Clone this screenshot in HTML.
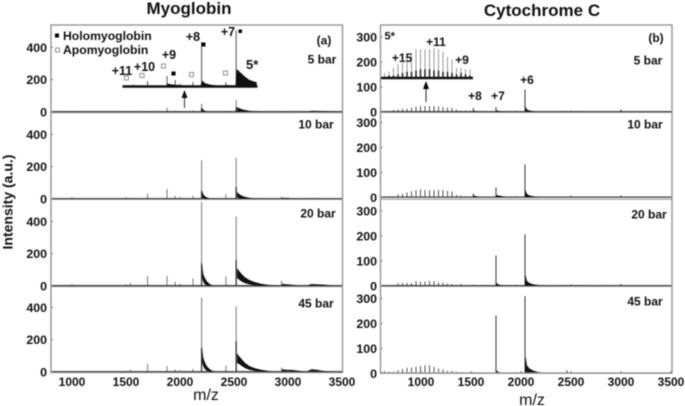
<!DOCTYPE html>
<html lang="en">
<head>
<meta charset="utf-8">
<title>Myoglobin and Cytochrome C spectra</title>
<style>
html,body{margin:0;padding:0;background:#fff;width:685px;height:406px;overflow:hidden}
svg{display:block;filter:blur(.5px)}
text{font-family:"Liberation Sans",sans-serif;fill:#111;font-weight:700}
</style>
</head>
<body>
<svg id="chart" xmlns="http://www.w3.org/2000/svg" width="685" height="406" viewBox="0 0 685 406">
<g id="marks"></g>
<g id="frames"></g>
<g>
<text x="189" y="14" text-anchor="middle" font-size="17">Myoglobin</text>
<text x="542" y="16" text-anchor="middle" font-size="17">Cytochrome C</text>
<text transform="translate(12.5,202) rotate(-90)" text-anchor="middle" font-size="14">Intensity (a.u.)</text>
<text x="206" y="400" text-anchor="middle" font-size="16" style="font-weight:400">m/z</text>
<text x="532" y="405" text-anchor="middle" font-size="16" style="font-weight:400">m/z</text>

<rect x="55" y="33.500" width="4" height="4" fill="#000"/>
<rect x="55.500" y="48" width="4" height="4" fill="#fff" stroke="#777" stroke-width=".8"/>
<text x="63" y="40" font-size="12.200">Holomyoglobin</text>
<text x="63" y="54" font-size="12.200">Apomyoglobin</text>

<rect x="238.500" y="29.500" width="3.500" height="3.500" fill="#000"/>
<rect x="201.500" y="42.500" width="4" height="4" fill="#000"/>
<rect x="171.500" y="71.500" width="4" height="4" fill="#000"/>
<rect x="124.500" y="76" width="4" height="4" fill="#fff" stroke="#777" stroke-width=".8"/>
<rect x="140" y="73.500" width="4" height="4" fill="#fff" stroke="#777" stroke-width=".8"/>
<rect x="161.500" y="64" width="4" height="4" fill="#fff" stroke="#777" stroke-width=".8"/>
<rect x="189.500" y="72.500" width="4" height="4" fill="#fff" stroke="#777" stroke-width=".8"/>
<rect x="223.500" y="71" width="4" height="4" fill="#fff" stroke="#777" stroke-width=".8"/>

<text x="228" y="36" text-anchor="middle" font-size="12.500">+7</text>
<text x="193" y="41" text-anchor="middle" font-size="12.500">+8</text>
<text x="169" y="59" text-anchor="middle" font-size="12.500">+9</text>
<text x="144.500" y="71" text-anchor="middle" font-size="12.500">+10</text>
<text x="122" y="75" text-anchor="middle" font-size="12.500">+11</text>
<text x="246" y="69" font-size="13">5*</text>
<text x="324" y="44.500" text-anchor="middle" font-size="12">(a)</text>
<text x="322" y="63.500" text-anchor="middle" font-size="12">5 bar</text>
<text x="316" y="128.500" text-anchor="middle" font-size="12">10 bar</text>
<text x="318" y="217.500" text-anchor="middle" font-size="12">20 bar</text>
<text x="316" y="307.500" text-anchor="middle" font-size="12">45 bar</text>

<text x="384.500" y="39.500" font-size="11">5*</text>
<text x="436" y="46" text-anchor="middle" font-size="12">+11</text>
<text x="402" y="62" text-anchor="middle" font-size="12">+15</text>
<text x="462" y="64" text-anchor="middle" font-size="12">+9</text>
<text x="527" y="84" text-anchor="middle" font-size="12">+6</text>
<text x="475" y="100" text-anchor="middle" font-size="12">+8</text>
<text x="498" y="100" text-anchor="middle" font-size="12">+7</text>
<text x="656" y="42" text-anchor="middle" font-size="12">(b)</text>
<text x="648" y="64.500" text-anchor="middle" font-size="12">5 bar</text>
<text x="645" y="128.500" text-anchor="middle" font-size="12">10 bar</text>
<text x="649" y="218.500" text-anchor="middle" font-size="12">20 bar</text>
<text x="645" y="305.500" text-anchor="middle" font-size="12">45 bar</text>

<g>
<line x1="184.500" y1="108" x2="184.500" y2="94" stroke="#333" stroke-width="1"/>
<path d="M184.500 90L181.500 98H187.500Z" fill="#111"/>
</g>
<g>
<line x1="426" y1="102" x2="426" y2="86" stroke="#222" stroke-width="1"/>
<path d="M426 81L423 89H429Z" fill="#000"/>
</g>
</g>
</svg>
<script>
// Shared tick labels
const myoXTicks = [1000, 1500, 2000, 2500, 3000, 3500];
const myoYTicks = [0, 200, 400];
const cytoXTicks = [1000, 1500, 2000, 2500, 3000, 3500];
const cytoYTicks = [0, 100, 200, 300];

// Myoglobin stick peaks
const myoPeakMz = [1000, 1500, 1540, 1700, 1880, 1955, 2000, 2120, 2200, 2425, 2520, 2940, 3000];
const myo5Peaks = [5, 4, 4, 6, 25, 8, 6, 8, 50, 8, 75, 6, 4];
const myo10Peaks = [10, 10, 6, 33, 62, 20, 12, 20, 240, 30, 255, 15, 10];
const myo20Peaks = [10, 10, 20, 62, 62, 27, 15, 47, 520, 58, 430, 33, 12];
const myo45Peaks = [8, 10, 15, 50, 37, 15, 12, 20, 460, 40, 405, 27, 10];

// Dark cores of the two main peaks (m/z 2200, 2520)
const myoCoreMz = [2200, 2520];
const myo5Core = [25, 30];
const myo10Core = [50, 75];
const myo20Core = [140, 160];
const myo45Core = [150, 190];

// Tail envelopes after m/z 2200
const myoTailAMz = [2205, 2215, 2230, 2250, 2275, 2300, 2340];
const myo5TailATop = [25, 15, 8, 4, 2, 1, 0];
const myo5TailABottom = [0, 0, 0, 0, 0, 0, 0];
const myo10TailATop = [50, 30, 18, 10, 4, 2, 0];
const myo10TailABottom = [10, 5, 2, 0, 0, 0, 0];
const myo20TailATop = [140, 75, 50, 28, 12, 5, 1];
const myo20TailABottom = [50, 25, 10, 4, 0, 0, 0];
const myo45TailATop = [150, 90, 60, 35, 18, 8, 2];
const myo45TailABottom = [60, 35, 18, 7, 2, 0, 0];

// Tail envelopes after m/z 2520
const myoTailBMz = [2528, 2545, 2570, 2600, 2640, 2690, 2750, 2820, 2900];
const myo5TailBTop = [30, 25, 18, 12, 8, 5, 3, 1, 0];
const myo5TailBBottom = [0, 0, 0, 0, 0, 0, 0, 0, 0];
const myo10TailBTop = [45, 32, 22, 14, 8, 4, 2, 0, 0];
const myo10TailBBottom = [10, 6, 3, 1, 0, 0, 0, 0, 0];
const myo20TailBTop = [110, 95, 75, 55, 38, 25, 14, 7, 3];
const myo20TailBBottom = [50, 40, 28, 18, 10, 5, 2, 0, 0];
const myo45TailBTop = [115, 100, 80, 58, 38, 24, 14, 7, 3];
const myo45TailBBottom = [55, 50, 38, 25, 14, 7, 3, 1, 0];

// High-mass humps
const myoHumpMz = [2945, 2990, 3040, 3100, 3170, 3220, 3260, 3320, 3400, 3480];
const myo5Hump = [3, 3, 2, 1, 1, 8, 7, 6, 4, 1];
const myo10Hump = [8, 6, 3, 1, 0, 4, 4, 2, 1, 0];
const myo20Hump = [15, 10, 8, 4, 2, 12, 11, 9, 5, 1];
const myo45Hump = [18, 14, 13, 8, 3, 18, 15, 8, 3, 1];

// Myoglobin 5x inset (5 bar)
const myoInsetMz = [1570, 1700, 1880, 1955, 2000, 2120, 2200, 2425, 2520];
const myoInsetPeaks = [15, 37, 68, 43, 20, 31, 278, 31, 350];
const myoInsetFuzzMz = [1880, 1920, 1955, 2000, 2050, 2120, 2190, 2205, 2230, 2260, 2300, 2350, 2400, 2430, 2470, 2515, 2525, 2560, 2600, 2640, 2680, 2710];
const myoInsetFuzz = [22, 16, 14, 12, 9, 10, 8, 40, 25, 18, 12, 9, 6, 12, 10, 10, 111, 90, 65, 45, 35, 30];

// Cytochrome C envelope spikes
const cytoSpikeMz = [635, 680, 725, 770, 815, 860, 905, 950, 995, 1040, 1085, 1130, 1175, 1220, 1265, 1310, 1355, 1400, 1445, 1490];
const cyto5Spikes = [4, 4, 8, 10, 13, 13, 17, 22, 24, 24, 24, 24, 22, 20, 18, 16, 10, 6, 6, 5];
const cyto10Spikes = [5, 5, 5, 13, 15, 20, 25, 30, 33, 30, 30, 30, 30, 30, 27, 24, 10, 8, 5, 4];
const cyto20Spikes = [3, 3, 4, 12, 12, 12, 12, 20, 17, 18, 20, 20, 14, 13, 10, 8, 3, 8, 3, 2];
const cyto45Spikes = [10, 7, 7, 13, 18, 23, 24, 27, 30, 33, 33, 27, 20, 16, 11, 11, 7, 5, 4, 3];

// Cytochrome C main peaks
const cytoPeakMz = [1523, 1750, 2040, 2460, 2500, 3000];
const cyto5Peaks = [16, 19, 90, 4, 5, 10];
const cyto10Peaks = [16, 40, 132, 3, 7, 8];
const cyto20Peaks = [5, 122, 207, 4, 6, 8];
const cyto45Peaks = [5, 232, 310, 12, 6, 8];

// Cytochrome C small background peaks
const cytoNoiseMz = [1570, 1620, 1660, 1700, 1900, 1950, 1990, 2350, 2550, 2600, 2700, 2800, 2900];
const cytoNoise = [3, 3, 4, 3, 4, 5, 4, 3, 4, 3, 3, 3, 3];

// Cytochrome C tails
const cytoTailAMz = [1755, 1775, 1800, 1850, 1900];
const cyto5TailA = [6, 5, 3, 2, 1];
const cyto10TailA = [10, 8, 6, 3, 1];
const cyto20TailA = [12, 6, 4, 3, 1];
const cyto45TailA = [12, 6, 4, 2, 1];
const cytoTailBMz = [2045, 2060, 2085, 2120, 2170, 2230, 2300];
const cyto5TailB = [22, 10, 6, 4, 2, 1, 0];
const cyto10TailB = [30, 14, 8, 5, 3, 1, 0];
const cyto20TailB = [45, 20, 12, 7, 4, 2, 1];
const cyto45TailB = [70, 32, 20, 12, 6, 3, 1];
const cytoTailCMz = [1525, 1545, 1580, 1620];
const cyto5TailC = [6, 4, 2, 1];
const cyto10TailC = [8, 6, 3, 1];
const cyto20TailC = [3, 2, 1, 0];
const cyto45TailC = [3, 2, 1, 0];

// Cytochrome C 5x inset
const cytoInsetSpikes = [4, 5, 8, 11, 12, 13, 20, 23, 23, 23, 23, 24, 23, 21, 17, 15, 8, 8, 7, 7];
const cytoInsetCores = [1, 2, 2, 3, 4, 5, 5, 6, 7, 7, 7, 6, 6, 5, 5, 4, 3, 4, 3, 2];

const NS = 'http://www.w3.org/2000/svg';
const marks = document.getElementById('marks');
const frames = document.getElementById('frames');

function make(parent, tag, name, attrs, text) {
  const el = document.createElementNS(NS, tag);
  
  
  for (const k in attrs) el.setAttribute(k, attrs[k]);
  if (text !== undefined) el.textContent = text;
  parent.appendChild(el);
  return el;
}

const xMyo = v => 50.4 + (v - 800) * 0.108;
const xCyto = v => 381 + (v - 600) * 0.1;

function sticks(group, name, xs, vals, xf, yf, base, color, width) {
  xs.forEach((m, i) => {
    const px = xf(m);
    make(group, 'line', name, { x1: px, x2: px, y1: base, y2: yf(vals[i]), stroke: color, 'stroke-width': width });
  });
}

function band(group, name, xs, top, bottom, xf, yf, color) {
  const up = xs.map((m, i) => xf(m).toFixed(2) + ',' + yf(top[i]).toFixed(2));
  const down = xs.map((m, i) => xf(m).toFixed(2) + ',' + yf(bottom ? bottom[i] : 0).toFixed(2)).reverse();
  make(group, 'polygon', name, { points: up.concat(down).join(' '), fill: color });
}

function baseline(group, name, x1, x2, y, w) {
  make(group, 'line', name, { x1: x1, x2: x2, y1: y, y2: y, stroke: '#111', 'stroke-width': w });
}

const myoPanels = [
  { id: '5-bar', zero: 112, peaks: myo5Peaks, core: myo5Core, aT: myo5TailATop, aB: myo5TailABottom, bT: myo5TailBTop, bB: myo5TailBBottom, hump: myo5Hump },
  { id: '10-bar', zero: 199, peaks: myo10Peaks, core: myo10Core, aT: myo10TailATop, aB: myo10TailABottom, bT: myo10TailBTop, bB: myo10TailBBottom, hump: myo10Hump },
  { id: '20-bar', zero: 286, peaks: myo20Peaks, core: myo20Core, aT: myo20TailATop, aB: myo20TailABottom, bT: myo20TailBTop, bB: myo20TailBBottom, hump: myo20Hump },
  { id: '45-bar', zero: 372, peaks: myo45Peaks, core: myo45Core, aT: myo45TailATop, aB: myo45TailABottom, bT: myo45TailBTop, bB: myo45TailBBottom, hump: myo45Hump }
];
const myoScale = 0.1617;

myoPanels.forEach(p => {
  const yf = v => p.zero - v * myoScale;
  const g = make(marks, 'g', 'myoglobin-spectrum-' + p.id, {});
  sticks(g, 'myoglobin-peak', myoPeakMz, p.peaks, xMyo, yf, p.zero, '#777', 1);
  sticks(g, 'myoglobin-peak-core', myoCoreMz, p.core, xMyo, yf, p.zero, '#111', 1);
  band(g, 'myoglobin-tail-a', myoTailAMz, p.aT, p.aB, xMyo, yf, '#111');
  band(g, 'myoglobin-tail-b', myoTailBMz, p.bT, p.bB, xMyo, yf, '#111');
  band(g, 'myoglobin-hump', myoHumpMz, p.hump, null, xMyo, yf, '#222');
  baseline(g, 'myoglobin-baseline', 51, 342, p.zero - 0.4, 1);
  myoYTicks.forEach(t => {
    make(frames, 'line', 'myoglobin-y-tick', { x1: 50.5, x2: 53, y1: yf(t), y2: yf(t), stroke: '#777', 'stroke-width': 1 });
    make(frames, 'text', 'myoglobin-y-tick-label', { x: 47, y: yf(t) + 4.5, 'text-anchor': 'end', 'font-size': 12.4 }, t);
  });
});

const myoInsetY = v => 87 - v * myoScale;
const myoInset = make(marks, 'g', 'myoglobin-inset', {});
sticks(myoInset, 'myoglobin-inset-peak', myoInsetMz, myoInsetPeaks, xMyo, myoInsetY, 87, '#555', 1);
band(myoInset, 'myoglobin-inset-fuzz', myoInsetFuzzMz, myoInsetFuzz, null, xMyo, myoInsetY, '#111');
baseline(myoInset, 'myoglobin-inset-baseline', 122.5, 257.5, 86.5, 2.5);

const cytoPanels = [
  { id: '5-bar', zero: 112, spikes: cyto5Spikes, peaks: cyto5Peaks, a: cyto5TailA, b: cyto5TailB, c: cyto5TailC },
  { id: '10-bar', zero: 197.5, spikes: cyto10Spikes, peaks: cyto10Peaks, a: cyto10TailA, b: cyto10TailB, c: cyto10TailC },
  { id: '20-bar', zero: 286, spikes: cyto20Spikes, peaks: cyto20Peaks, a: cyto20TailA, b: cyto20TailB, c: cyto20TailC },
  { id: '45-bar', zero: 373.5, spikes: cyto45Spikes, peaks: cyto45Peaks, a: cyto45TailA, b: cyto45TailB, c: cyto45TailC }
];
const cytoScale = 0.25;

cytoPanels.forEach(p => {
  const yf = v => p.zero - v * cytoScale;
  const g = make(marks, 'g', 'cytochrome-spectrum-' + p.id, {});
  sticks(g, 'cytochrome-spike', cytoSpikeMz, p.spikes, xCyto, yf, p.zero, '#555', 1);
  sticks(g, 'cytochrome-peak', cytoPeakMz, p.peaks, xCyto, yf, p.zero, '#333', 1);
  sticks(g, 'cytochrome-noise-peak', cytoNoiseMz, cytoNoise, xCyto, yf, p.zero, '#333', 1);
  band(g, 'cytochrome-tail-a', cytoTailAMz, p.a, null, xCyto, yf, '#111');
  band(g, 'cytochrome-tail-b', cytoTailBMz, p.b, null, xCyto, yf, '#111');
  band(g, 'cytochrome-tail-c', cytoTailCMz, p.c, null, xCyto, yf, '#111');
  baseline(g, 'cytochrome-baseline', 381, 672, p.zero - 0.4, 1);
  cytoYTicks.forEach(t => {
    make(frames, 'line', 'cytochrome-y-tick', { x1: 380, x2: 382.5, y1: yf(t), y2: yf(t), stroke: '#777', 'stroke-width': 1 });
    make(frames, 'text', 'cytochrome-y-tick-label', { x: 377, y: yf(t) + 4.5, 'text-anchor': 'end', 'font-size': 12.4 }, t);
  });
});

const cytoInsetY = v => 78 - v * 1.25;
const cytoInset = make(marks, 'g', 'cytochrome-inset', {});
sticks(cytoInset, 'cytochrome-inset-spike', cytoSpikeMz, cytoInsetSpikes, xCyto, cytoInsetY, 78, '#999', 1);
sticks(cytoInset, 'cytochrome-inset-core', cytoSpikeMz, cytoInsetCores, xCyto, cytoInsetY, 78, '#111', 1.4);
baseline(cytoInset, 'cytochrome-inset-baseline', 380, 473, 78, 2.4);

[[51, 25, 291.5, 347.5], [380.5, 25, 291.5, 348]].forEach((r, i) => {
  make(frames, 'rect', i ? 'cytochrome-frame' : 'myoglobin-frame', { x: r[0], y: r[1], width: r[2], height: r[3], fill: 'none', stroke: '#8c8c8c', 'stroke-width': 1.3 });
});
[112.6, 199.4, 286.6].forEach(y => {
  make(frames, 'line', 'myoglobin-panel-divider', { x1: 51, x2: 342.5, y1: y, y2: y, stroke: '#8c8c8c', 'stroke-width': 1 });
  make(frames, 'line', 'cytochrome-panel-divider', { x1: 380.5, x2: 672, y1: y - 0.2, y2: y - 0.2, stroke: '#8c8c8c', 'stroke-width': 1 });
});
myoXTicks.forEach(t => {
  make(frames, 'text', 'myoglobin-x-tick-label', { x: xMyo(t), y: 386, 'text-anchor': 'middle', 'font-size': 12 }, t);
  make(frames, 'line', 'myoglobin-x-tick', { x1: xMyo(t), x2: xMyo(t), y1: 371, y2: 373, stroke: '#777', 'stroke-width': 1 });
});
cytoXTicks.forEach(t => {
  make(frames, 'text', 'cytochrome-x-tick-label', { x: xCyto(t), y: 386, 'text-anchor': 'middle', 'font-size': 12 }, t);
  make(frames, 'line', 'cytochrome-x-tick', { x1: xCyto(t), x2: xCyto(t), y1: 371, y2: 373, stroke: '#777', 'stroke-width': 1 });
});
</script>
</body>
</html>
